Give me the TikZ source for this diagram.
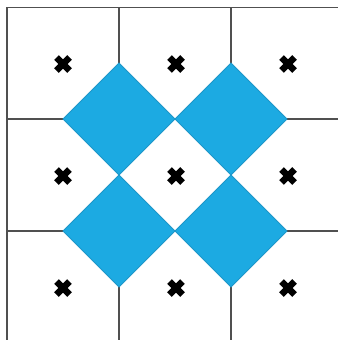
\documentclass[tikz,border=0pt]{standalone}
\definecolor{gridgray}{RGB}{80,80,80}
\definecolor{dfill}{RGB}{28,170,226}
\definecolor{dedge}{RGB}{30,150,200}
\tikzset{
  gridline/.style={draw=gridgray, line width=1.5pt},
  tile/.style={fill=dfill, draw=dedge, line width=0.8pt, line join=miter},
  crossmark/.style={draw=black, line width=6.5pt, line cap=butt}
}
\begin{document}
\begin{tikzpicture}[x=1pt,y=-1pt]
\useasboundingbox (0,0) rectangle (338,340);
% grid
\draw[gridline] (7,340) -- (7,7.5) -- (338,7.5);
\foreach \v in {119,231} {
  \draw[gridline] (\v,7.5) -- (\v,340);
  \draw[gridline] (7,\v) -- (338,\v);
}
% diamonds
\foreach \cx/\cy in {119/119, 231/119, 119/231, 231/231} {
  \path[tile] (\cx,\cy-56) -- (\cx+56,\cy) -- (\cx,\cy+56) -- (\cx-56,\cy) -- cycle;
}
% crosses
\foreach \cx/\cy in {63/64,176/64,288/64,63/176,176/176,288/176,63/288,176/288,288/288} {
  \draw[crossmark] (\cx-6.5,\cy-6.5) -- (\cx+6.5,\cy+6.5);
  \draw[crossmark] (\cx-6.5,\cy+6.5) -- (\cx+6.5,\cy-6.5);
}
\end{tikzpicture}
\end{document}
